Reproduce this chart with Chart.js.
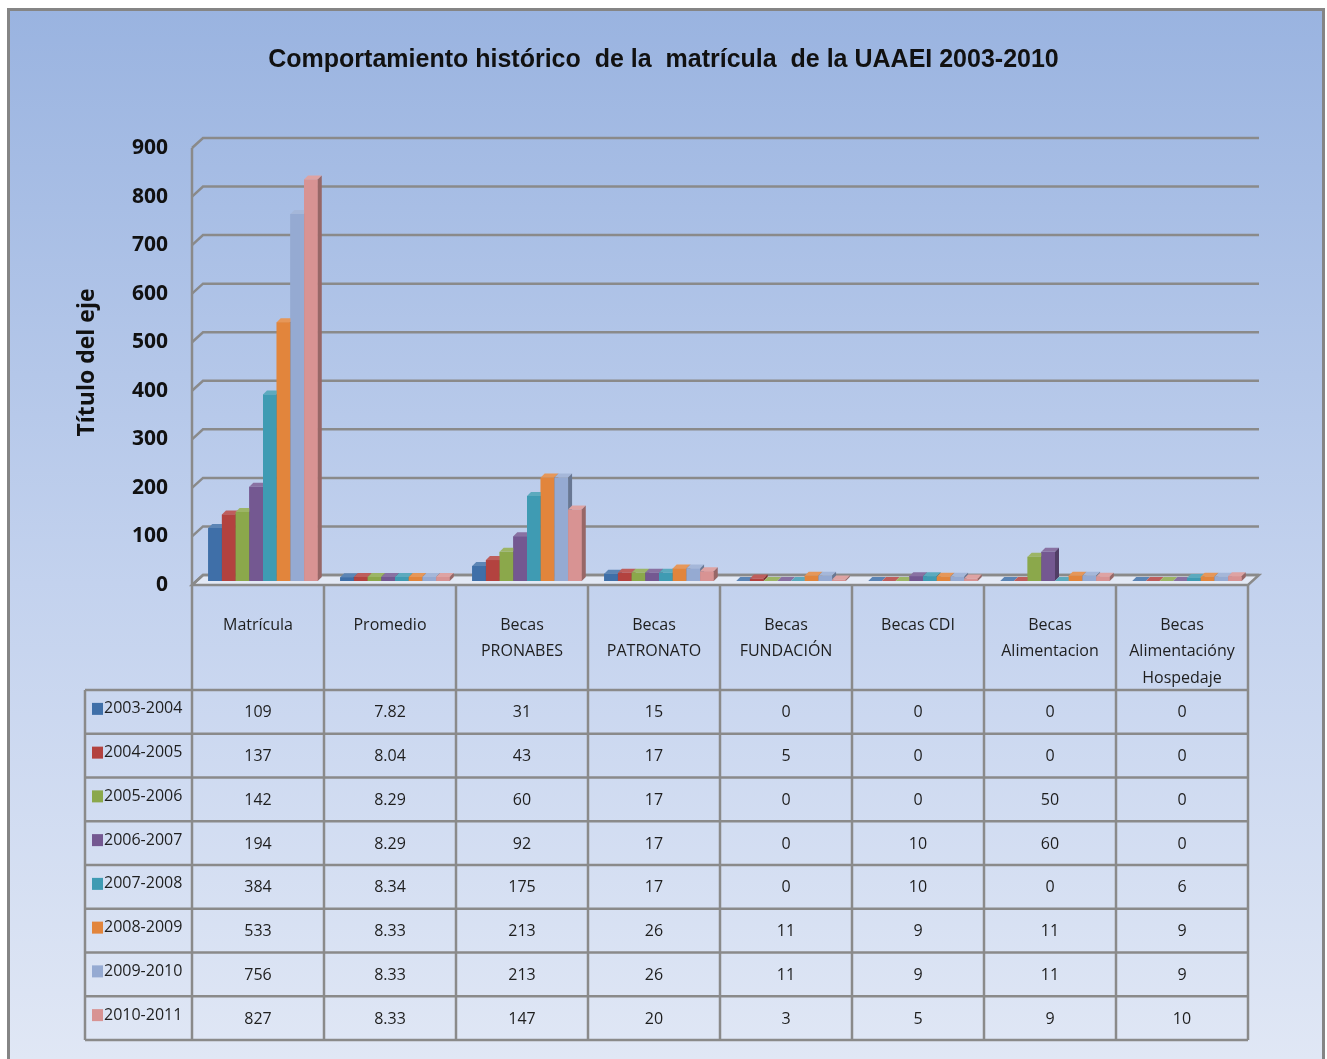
<!DOCTYPE html>
<html>
<head>
<meta charset="utf-8">
<script src="https://cdn.jsdelivr.net/npm/chart.js@4.4.1/dist/chart.umd.min.js"></script>
<style>
  html, body { margin: 0; padding: 0; background: #fff; }
  canvas { display: block; }
</style>
</head>
<body>
<canvas id="matriculaChart" width="1327" height="1059"></canvas>
<script>
// categories (lines of each header cell in the data table)
const categories = [
    ['Matrícula'],
    ['Promedio'],
    ['Becas', 'PRONABES'],
    ['Becas', 'PATRONATO'],
    ['Becas', 'FUNDACIÓN'],
    ['Becas CDI'],
    ['Becas', 'Alimentacion'],
    ['Becas', 'Alimentacióny', 'Hospedaje']
];

const seriesNames = ['2003-2004', '2004-2005', '2005-2006', '2006-2007', '2007-2008', '2008-2009', '2009-2010', '2010-2011'];

const v2003 = [109, 7.82, 31, 15, 0, 0, 0, 0];
const v2004 = [137, 8.04, 43, 17, 5, 0, 0, 0];
const v2005 = [142, 8.29, 60, 17, 0, 0, 50, 0];
const v2006 = [194, 8.29, 92, 17, 0, 10, 60, 0];
const v2007 = [384, 8.34, 175, 17, 0, 10, 0, 6];
const v2008 = [533, 8.33, 213, 26, 11, 9, 11, 9];
const v2009 = [756, 8.33, 213, 26, 11, 9, 11, 9];
const v2010 = [827, 8.33, 147, 20, 3, 5, 9, 10];

const yTicks = [0, 100, 200, 300, 400, 500, 600, 700, 800, 900];

const seriesValues = [v2003, v2004, v2005, v2006, v2007, v2008, v2009, v2010];
const colors = ['#3f6fa8', '#b3423f', '#8ba84b', '#745891', '#3f9bb3', '#e2853c', '#95aad2', '#d89393'];

// 3D look
const FRONT = { dx: -5, dy: 4 };   // front plane relative to bars
const BACK = { dx: 6, dy: -6 };    // back wall relative to bars
const BAR_D = 4;
const GRID = '#8a8a8a';
const FONT = '"Open Sans", "DejaVu Sans", sans-serif';

function shade(hex, f) {
    const n = parseInt(hex.slice(1), 16);
    let r = n >> 16, g = (n >> 8) & 255, b = n & 255;
    if (f > 0) { r += (255 - r) * f; g += (255 - g) * f; b += (255 - b) * f; }
    else { r *= 1 + f; g *= 1 + f; b *= 1 + f; }
    return `rgb(${Math.round(r)},${Math.round(g)},${Math.round(b)})`;
}

const backdrop = {
    id: 'backdrop',
    beforeDraw(chart) {
        const { ctx, width, height } = chart;
        const grad = ctx.createLinearGradient(0, 0, 0, height);
        grad.addColorStop(0, '#99b3e0');
        grad.addColorStop(0.55, '#c3d2ee');
        grad.addColorStop(1, '#e0e7f5');
        ctx.save();
        ctx.fillStyle = '#ffffff';
        ctx.fillRect(0, 0, width, height);
        ctx.fillStyle = grad;
        ctx.fillRect(8, 9, 1315, height);
        ctx.strokeStyle = '#858585';
        ctx.lineWidth = 3;
        ctx.strokeRect(8.5, 9.5, 1315, height + 10);
        ctx.restore();
    }
};

const walls = {
    id: 'walls',
    beforeDatasetsDraw(chart) {
        const { ctx, chartArea } = chart;
        const y = chart.scales.y;
        const l = chartArea.left, r = chartArea.right;
        ctx.save();
        ctx.lineWidth = 2.5;
        ctx.strokeStyle = GRID;
        // floor
        const b = y.getPixelForValue(0);
        ctx.beginPath();
        ctx.moveTo(l + FRONT.dx, b + FRONT.dy);
        ctx.lineTo(r + FRONT.dx, b + FRONT.dy);
        ctx.lineTo(r + BACK.dx, b + BACK.dy);
        ctx.lineTo(l + BACK.dx, b + BACK.dy);
        ctx.closePath();
        ctx.fillStyle = '#e3e9f5';
        ctx.fill();
        ctx.stroke();
        // gridlines on side + back wall
        yTicks.forEach(t => {
            const py = y.getPixelForValue(t);
            ctx.beginPath();
            ctx.moveTo(l + FRONT.dx, py + FRONT.dy);
            ctx.lineTo(l + BACK.dx, py + BACK.dy);
            ctx.lineTo(r + BACK.dx, py + BACK.dy);
            ctx.stroke();
        });
        // left axis
        ctx.beginPath();
        ctx.moveTo(l + FRONT.dx, y.getPixelForValue(900) + FRONT.dy);
        ctx.lineTo(l + FRONT.dx, b + FRONT.dy);
        ctx.stroke();
        ctx.restore();
    }
};

// repaint every bar as a small box, left to right, so each bar hides the side of the one before
const bars3d = {
    id: 'bars3d',
    afterDatasetsDraw(chart) {
        const { ctx } = chart;
        ctx.save();
        chart.data.datasets.forEach((ds, i) => {
            const color = colors[i];
            chart.getDatasetMeta(i).data.forEach(el => {
                const x0 = el.x - el.width / 2, x1 = el.x + el.width / 2;
                const top = Math.min(el.y, el.base), base = el.base;
                ctx.fillStyle = color;
                ctx.fillRect(x0, top, x1 - x0, base - top);
                // top face
                ctx.beginPath();
                ctx.moveTo(x0, top);
                ctx.lineTo(x1, top);
                ctx.lineTo(x1 + BAR_D, top - BAR_D);
                ctx.lineTo(x0 + BAR_D, top - BAR_D);
                ctx.closePath();
                ctx.fillStyle = shade(color, 0.15);
                ctx.fill();
                // right side
                ctx.beginPath();
                ctx.moveTo(x1, top);
                ctx.lineTo(x1 + BAR_D, top - BAR_D);
                ctx.lineTo(x1 + BAR_D, base - BAR_D);
                ctx.lineTo(x1, base);
                ctx.closePath();
                ctx.fillStyle = shade(color, -0.3);
                ctx.fill();
            });
        });
        ctx.restore();
    }
};

const dataTable = {
    id: 'dataTable',
    afterDraw(chart) {
        const { ctx, chartArea } = chart;
        const y = chart.scales.y;
        const x = chart.scales.x;
        const cw = (chartArea.right - chartArea.left) / categories.length;
        const left = chartArea.left + FRONT.dx;
        const right = chartArea.right + FRONT.dx;
        const headTop = y.getPixelForValue(0) + FRONT.dy;
        const rowTop = 690;
        const rowH = 43.75;
        const legendLeft = left - 107;
        const bottom = rowTop + rowH * seriesNames.length;

        ctx.save();
        ctx.strokeStyle = GRID;
        ctx.lineWidth = 2.5;
        // vertical lines
        for (let i = 0; i <= categories.length; i++) {
            const px = left + i * cw;
            ctx.beginPath();
            ctx.moveTo(px, headTop);
            ctx.lineTo(px, bottom);
            ctx.stroke();
        }
        ctx.beginPath();
        ctx.moveTo(legendLeft, rowTop);
        ctx.lineTo(legendLeft, bottom);
        ctx.stroke();
        // horizontal lines
        for (let r = 0; r <= seriesNames.length; r++) {
            const py = rowTop + r * rowH;
            ctx.beginPath();
            ctx.moveTo(legendLeft, py);
            ctx.lineTo(right, py);
            ctx.stroke();
        }

        ctx.fillStyle = '#1e1e1e';
        ctx.font = '16px ' + FONT;
        ctx.textAlign = 'center';
        ctx.textBaseline = 'middle';
        // header cells
        categories.forEach((lines, i) => {
            const cx = x.getPixelForValue(i) + FRONT.dx;
            lines.forEach((t, k) => ctx.fillText(t, cx, 625 + k * 26.5));
        });
        // rows
        seriesNames.forEach((name, r) => {
            const cy = rowTop + r * rowH + rowH / 2;
            ctx.fillStyle = colors[r];
            ctx.fillRect(legendLeft + 7, cy - 9, 11, 12);
            ctx.fillStyle = '#1e1e1e';
            ctx.textAlign = 'left';
            ctx.fillText(name, legendLeft + 19, cy - 3);
            ctx.textAlign = 'center';
            seriesValues[r].forEach((v, i) => {
                ctx.fillText(String(v), x.getPixelForValue(i) + FRONT.dx, cy + 1);
            });
        });
        ctx.restore();
    }
};

new Chart(document.getElementById('matriculaChart'), {
    type: 'bar',
    data: {
        labels: categories.map(c => c.join(' ')),
        datasets: seriesNames.map((name, i) => ({
            label: name,
            data: seriesValues[i],
            backgroundColor: colors[i],
            borderWidth: 0
        }))
    },
    options: {
        responsive: false,
        animation: false,
        categoryPercentage: 0.83,
        barPercentage: 1,
        layout: {
            padding: { left: 74, right: 74, top: 0, bottom: 478 }
        },
        plugins: {
            legend: { display: false },
            tooltip: { enabled: false },
            title: {
                display: true,
                text: 'Comportamiento histórico  de la  matrícula  de la UAAEI 2003-2010',
                color: '#111',
                font: { family: '"Liberation Sans", Arial, sans-serif', size: 25, weight: 'bold' },
                padding: { top: 45, bottom: 69 }
            }
        },
        scales: {
            x: { display: false },
            y: {
                min: 0,
                max: 900,
                afterFit: s => { s.width = 123; },
                ticks: {
                    stepSize: 100,
                    padding: 29,
                    labelOffset: 4,
                    color: '#111',
                    font: { family: FONT, size: 21, weight: 'bold' }
                },
                grid: { display: false, drawTicks: false },
                border: { display: false },
                title: {
                    display: true,
                    text: 'Título del eje',
                    color: '#111',
                    font: { family: FONT, size: 23, weight: 'bold' },
                    padding: { top: 0 }
                }
            }
        }
    },
    plugins: [backdrop, walls, bars3d, dataTable]
});
</script>
</body>
</html>
